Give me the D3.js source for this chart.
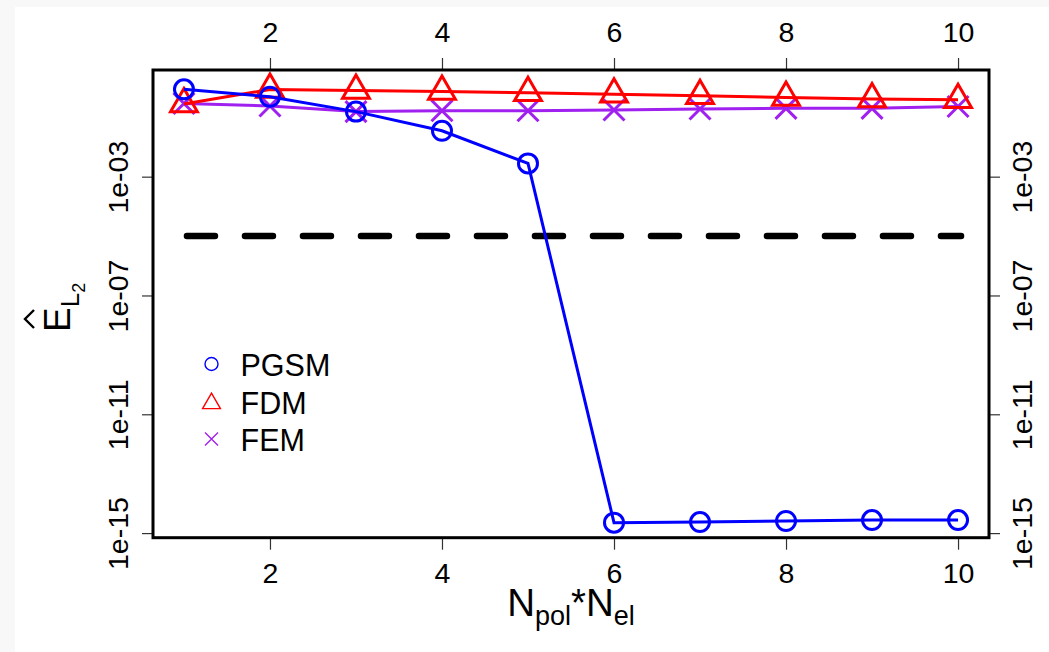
<!DOCTYPE html>
<html>
<head>
<meta charset="utf-8">
<script src="https://cdn.jsdelivr.net/npm/d3@7"></script>
<style>
  body { margin: 0; background: #fff; }
  svg { display: block; }
  text { font-family: "Liberation Sans", Arial, sans-serif; fill: #000; }
</style>
</head>
<body>
<div id="chart"></div>
<script>
"use strict";

// values (log-scale y)
var nValues = [1, 2, 3, 4, 5, 6, 7, 8, 9, 10];
var pgsm = [0.87, 0.49, 0.155, 0.035, 0.0028, 2.25e-15, 2.35e-15, 2.55e-15, 2.75e-15, 2.75e-15];
var fdm  = [0.28, 0.86, 0.79, 0.73, 0.67, 0.59, 0.53, 0.46, 0.41, 0.39];
var fem  = [0.29, 0.24, 0.155, 0.166, 0.166, 0.176, 0.19, 0.2, 0.2, 0.23];
var tolerance = 1e-5;
var xTicks = [2, 4, 6, 8, 10];
var yTicks = [1e-3, 1e-7, 1e-11, 1e-15];
var legendLabels = ["PGSM", "FDM", "FEM"];

var width = 1049, height = 652;
var box = {left: 153, right: 989, top: 70, bottom: 537.7};

var svg = d3.select("#chart").append("svg")
    .attr("width", width)
    .attr("height", height);

// background: faint gray band on top/left like the screenshot
svg.append("rect").attr("width", width).attr("height", height).attr("fill", "#f8f8f8");
svg.append("rect").attr("x", 15).attr("y", 7).attr("width", width).attr("height", height).attr("fill", "#fff");

var x = d3.scaleLinear().domain([0.64, 10.36]).range([box.left, box.right]);
var y = d3.scaleLog().domain([7.0e-16, 3.9]).range([box.bottom, box.top]);

var fmtY = function(d) {
    var e = Math.round(Math.log10(d));
    return "1e" + (e < 0 ? "-" : "+") + String(Math.abs(e)).padStart(2, "0");
};

//------------------------- axes
function styleAxis(g) {
    g.select(".domain").remove();
    g.selectAll(".tick line").attr("stroke", "#333").attr("stroke-width", 1.2);
    g.selectAll(".tick text")
        .style("font-size", "28.5px")
        .attr("fill", "#000");
}

svg.append("g")
    .attr("transform", "translate(0," + box.bottom + ")")
    .call(d3.axisBottom(x).tickValues(xTicks).tickSize(12).tickSizeOuter(0))
    .call(styleAxis)
    .call(function(g) { g.selectAll(".tick text").attr("y", 45).attr("dy", 0); });

svg.append("g")
    .attr("transform", "translate(0," + box.top + ")")
    .call(d3.axisTop(x).tickValues(xTicks).tickSize(12).tickSizeOuter(0))
    .call(styleAxis)
    .call(function(g) { g.selectAll(".tick text").attr("y", -28).attr("dy", 0); });

svg.append("g")
    .attr("transform", "translate(" + box.left + ",0)")
    .call(d3.axisLeft(y).tickValues(yTicks).tickFormat(fmtY).tickSize(11).tickSizeOuter(0))
    .call(styleAxis)
    .call(function(g) {
        g.selectAll(".tick text")
            .attr("transform", "rotate(-90)")
            .attr("text-anchor", "middle")
            .attr("x", 0).attr("y", -25.5).attr("dy", 0);
    });

svg.append("g")
    .attr("transform", "translate(" + box.right + ",0)")
    .call(d3.axisRight(y).tickValues(yTicks).tickFormat(fmtY).tickSize(11).tickSizeOuter(0))
    .call(styleAxis)
    .call(function(g) {
        g.selectAll(".tick text")
            .attr("transform", "rotate(-90)")
            .attr("text-anchor", "middle")
            .attr("x", 0).attr("y", 43).attr("dy", 0);
    });

//------------------------- tolerance line
svg.append("line")
    .attr("x1", x(1)).attr("x2", x(10))
    .attr("y1", y(tolerance)).attr("y2", y(tolerance))
    .attr("stroke", "#000")
    .attr("stroke-width", 6.5)
    .attr("stroke-linecap", "round")
    .attr("stroke-dasharray", "28,30")
    .attr("transform", "translate(3,0)");

//------------------------- series
var series = [
    {name: "PGSM", values: pgsm, color: "#0000ff", shape: "circle"},
    {name: "FDM",  values: fdm,  color: "#ff0000", shape: "triangle"},
    {name: "FEM",  values: fem,  color: "#a020f0", shape: "cross"}
];

function markerPath(shape, s) {
    if (shape === "triangle") {
        var h = s * Math.sqrt(3) / 2;
        return "M0," + (-s) + "L" + h + "," + (s / 2) + "L" + (-h) + "," + (s / 2) + "Z";
    }
    if (shape === "cross") {
        return "M" + (-s) + "," + (-s) + "L" + s + "," + s + "M" + (-s) + "," + s + "L" + s + "," + (-s);
    }
    return d3.arc()({innerRadius: 0, outerRadius: s, startAngle: 0, endAngle: 2 * Math.PI});
}
var markerSize = {circle: 9.5, triangle: 15.5, cross: 10.5};

var line = d3.line()
    .x(function(d, i) { return x(nValues[i]); })
    .y(function(d) { return y(d); });

// draw in reverse so PGSM sits on top
series.slice().reverse().forEach(function(s) {
    var g = svg.append("g");
    g.append("path")
        .attr("d", line(s.values))
        .attr("fill", "none")
        .attr("stroke", s.color)
        .attr("stroke-width", 3);
    g.selectAll("path.marker")
        .data(s.values)
        .enter().append("path")
        .attr("class", "marker")
        .attr("transform", function(d, i) { return "translate(" + x(nValues[i]) + "," + y(d) + ")"; })
        .attr("d", markerPath(s.shape, markerSize[s.shape]))
        .attr("fill", "none")
        .attr("stroke", s.color)
        .attr("stroke-width", 3);
});

//------------------------- box
svg.append("rect")
    .attr("x", box.left).attr("y", box.top)
    .attr("width", box.right - box.left).attr("height", box.bottom - box.top)
    .attr("fill", "none")
    .attr("stroke", "#000")
    .attr("stroke-width", 3);

//------------------------- legend
var legendSize = {circle: 6.5, triangle: 10.3, cross: 6.5};
var legend = svg.append("g").attr("transform", "translate(211.5,364)");
var rows = legend.selectAll("g")
    .data(series)
    .enter().append("g")
    .attr("transform", function(d, i) { return "translate(0," + (i * 37.5) + ")"; });
rows.append("path")
    .attr("d", function(d) { return markerPath(d.shape, legendSize[d.shape]); })
    .attr("transform", function(d) { return d.shape === "triangle" ? "translate(0,2)" : null; })
    .attr("fill", "none")
    .attr("stroke", function(d) { return d.color; })
    .attr("stroke-width", 1.4);
rows.append("text")
    .attr("x", 29)
    .attr("y", 12)
    .style("font-size", "30.5px")
    .text(function(d, i) { return legendLabels[i]; });

//------------------------- axis titles
var xt = svg.append("text")
    .attr("x", (box.left + box.right) / 2)
    .attr("y", 616)
    .attr("text-anchor", "middle")
    .style("font-size", "38.5px");
xt.append("tspan").text("N");
xt.append("tspan").attr("dy", 9).style("font-size", "27px").text("pol");
xt.append("tspan").attr("dy", -9).text("*N");
xt.append("tspan").attr("dy", 9).style("font-size", "27px").text("el");

var yl = svg.append("g").attr("transform", "translate(70,304) rotate(-90)");
var yt = yl.append("text")
    .attr("x", -28)
    .attr("y", 0)
    .style("font-size", "37px");
yt.append("tspan").text("E");
yt.append("tspan").attr("dy", 9).style("font-size", "26px").text("L");
yt.append("tspan").attr("dy", 6).style("font-size", "18px").text("2");
// hat over the E
yl.append("path")
    .attr("d", "M-24,-36L-15,-45L-6,-36")
    .attr("fill", "none")
    .attr("stroke", "#000")
    .attr("stroke-width", 2.4);
</script>
</body>
</html>
